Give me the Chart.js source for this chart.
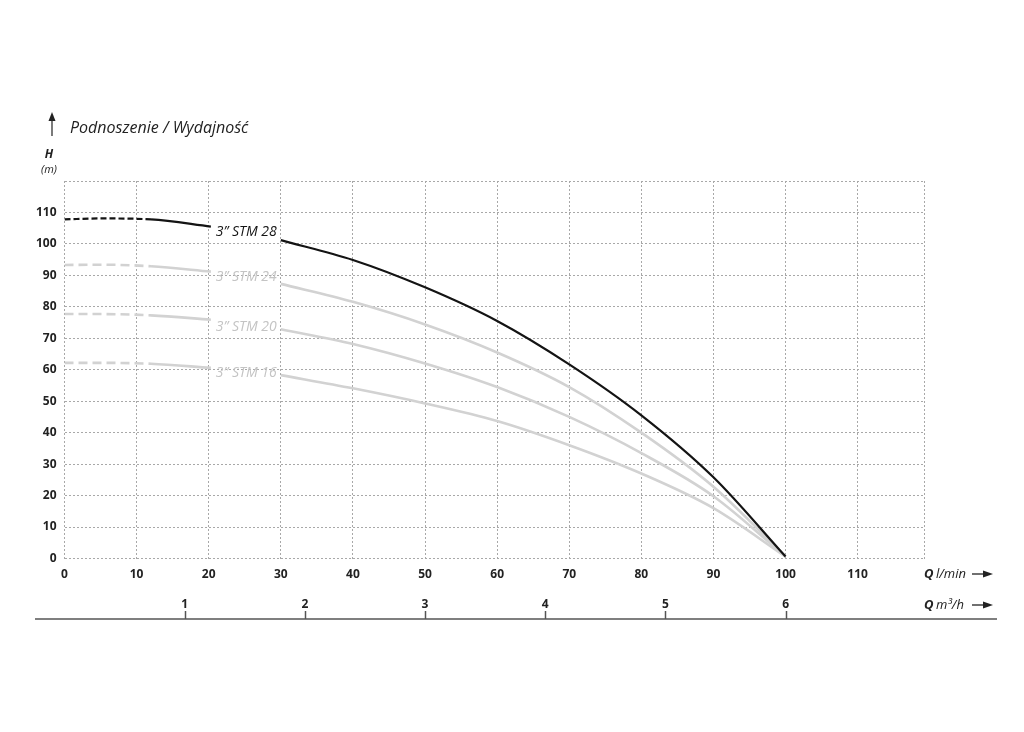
<!DOCTYPE html>
<html>
<head>
<meta charset="utf-8">
<title>Podnoszenie / Wydajność</title>
<script src="https://cdn.jsdelivr.net/npm/chart.js@4.4.1/dist/chart.umd.min.js"></script>
<style>
  body { margin: 0; background: #fff; }
  canvas { display: block; }
</style>
</head>
<body>
<canvas id="chart" width="1024" height="732"></canvas>
<script>
// flow in l/min (25 is the gap where the curve name sits)
const flow = [0, 5, 12, 20.3, 25, 30, 40, 50, 60, 70, 80, 90, 100];
const stm28 = [107.8, 108.1, 107.8, 105.5, null, 101.2, 94.9, 86.2, 75.5, 61.7, 45.5, 25.8, 0.6];
const stm24 = [93.3, 93.4, 92.9, 91.2, null, 87.3, 81.6, 74.4, 65.5, 54.5, 40.0, 22.8, 0.6];
const stm20 = [77.7, 77.7, 77.3, 75.9, null, 72.9, 68.2, 62.0, 54.5, 45.0, 33.5, 19.8, 0.6];
const stm16 = [62.2, 62.2, 61.9, 60.6, null, 58.3, 54.1, 49.3, 43.7, 36.0, 27.0, 16.0, 0.6];

const curveNames = ['3” STM 28', '3” STM 24', '3” STM 20', '3” STM 16'];
const nameFlow = [25.2, 25.2, 25.2, 25.2];
const nameHead = [103.9, 89.6, 73.7, 58.9];

const xTicks = [0, 10, 20, 30, 40, 50, 60, 70, 80, 90, 100, 110];
const yTicks = [0, 10, 20, 30, 40, 50, 60, 70, 80, 90, 100, 110];
const m3hTicks = [1, 2, 3, 4, 5, 6];

const X_MAX = 119.2;
const Y_MAX = 120;
const LMIN_PER_M3H = 1000 / 60;
const DASH_END = 12; // curves are dashed below this flow

const FONT = "'Open Sans', 'Noto Sans', sans-serif";
const BLACK = '#141414';
const GREY = '#d2d2d2';

function points(values) {
    return flow.map((q, i) => ({ x: q, y: values[i] }));
}

function curve(values, color, width, dash, order) {
    return {
        data: points(values),
        borderColor: color,
        borderWidth: width,
        pointRadius: 0,
        cubicInterpolationMode: 'monotone',
        spanGaps: false,
        order: order,
        segment: {
            borderDash: ctx => ctx.p1.parsed.x <= DASH_END ? dash : undefined
        }
    };
}

function arrowRight(c, x1, x2, y) {
    c.beginPath();
    c.moveTo(x1, y);
    c.lineTo(x2 - 8, y);
    c.stroke();
    c.beginPath();
    c.moveTo(x2, y);
    c.lineTo(x2 - 10, y - 3.5);
    c.lineTo(x2 - 10, y + 3.5);
    c.closePath();
    c.fill();
}

// texts, arrows and the m3/h baseline that are not part of the scales
const decorations = {
    id: 'decorations',
    afterDatasetsDraw(chart) {
        const c = chart.ctx;
        const xs = chart.scales.x, ys = chart.scales.y;
        c.save();
        c.font = 'italic 14px ' + FONT;
        c.textAlign = 'center';
        c.textBaseline = 'middle';
        curveNames.forEach((name, i) => {
            c.fillStyle = i === 0 ? BLACK : '#c4c4c4';
            c.fillText(name, xs.getPixelForValue(nameFlow[i]), ys.getPixelForValue(nameHead[i]));
        });
        c.restore();
    },
    afterDraw(chart) {
        const c = chart.ctx;
        const x2 = chart.scales.x2;
        c.save();
        c.fillStyle = '#222';
        c.strokeStyle = '#222';

        // vertical arrow + title
        c.lineWidth = 1.2;
        c.beginPath();
        c.moveTo(52, 136);
        c.lineTo(52, 118);
        c.stroke();
        c.beginPath();
        c.moveTo(52, 112);
        c.lineTo(48.5, 121);
        c.lineTo(55.5, 121);
        c.closePath();
        c.fill();

        c.textBaseline = 'middle';
        c.textAlign = 'left';
        c.font = 'italic 16px ' + FONT;
        c.fillText('Podnoszenie / Wydajność', 70, 128);

        c.textAlign = 'center';
        c.font = 'italic bold 12px ' + FONT;
        c.fillText('H', 49, 155);
        c.font = 'italic 11px ' + FONT;
        c.fillText('(m)', 49, 170);

        // axis names on the right
        c.textAlign = 'left';
        c.font = 'italic bold 13px ' + FONT;
        c.fillText('Q', 924, 574);
        c.fillText('Q', 924, 605);
        c.font = 'italic 13px ' + FONT;
        c.fillText('l/min', 936, 574);
        c.fillText('m³/h', 936, 605);
        c.lineWidth = 1.3;
        arrowRight(c, 972, 993, 574);
        arrowRight(c, 972, 993, 605);

        // m3/h baseline with tick marks
        c.strokeStyle = '#555';
        c.lineWidth = 1.5;
        c.beginPath();
        c.moveTo(35, 619);
        c.lineTo(997, 619);
        c.stroke();
        m3hTicks.forEach(v => {
            const px = Math.round(x2.getPixelForValue(v)) + 0.5;
            c.beginPath();
            c.moveTo(px, 611);
            c.lineTo(px, 619);
            c.stroke();
        });
        c.restore();
    }
};

// dotted grid lines (border.dash sets the grid dash in v4)
const grid = { color: '#a8a8a8', lineWidth: 1, drawTicks: false };
const gridDash = { display: false, dash: [2, 2] };
const tickFont = { family: FONT, weight: 'bold', size: 12 };

new Chart(document.getElementById('chart'), {
    type: 'line',
    data: {
        datasets: [
            curve(stm28, BLACK, 2.2, [6, 3], 0),
            curve(stm24, GREY, 2.6, [9, 5], 1),
            curve(stm20, GREY, 2.6, [9, 5], 1),
            curve(stm16, GREY, 2.6, [9, 5], 1)
        ]
    },
    options: {
        responsive: false,
        animation: false,
        events: [],
        layout: { padding: { top: 181, right: 100, bottom: 103.5, left: 0 } },
        plugins: {
            legend: { display: false },
            tooltip: { enabled: false }
        },
        scales: {
            x: {
                type: 'linear',
                position: 'bottom',
                weight: 0,
                min: 0,
                max: X_MAX,
                grid: grid,
                border: gridDash,
                afterBuildTicks: s => { s.ticks = xTicks.concat([X_MAX]).map(v => ({ value: v })); },
                afterFit: s => { s.height = 30; },
                ticks: {
                    autoSkip: false,
                    maxRotation: 0,
                    padding: 9,
                    color: '#222',
                    font: tickFont,
                    callback: v => xTicks.includes(v) ? String(v) : ''
                }
            },
            x2: {
                type: 'linear',
                position: 'bottom',
                weight: 1,
                min: 0,
                max: X_MAX / LMIN_PER_M3H,
                grid: { display: false, drawTicks: false },
                border: { display: false },
                afterBuildTicks: s => { s.ticks = m3hTicks.map(v => ({ value: v })); },
                afterFit: s => { s.height = 40; },
                ticks: {
                    autoSkip: false,
                    maxRotation: 0,
                    padding: 9,
                    color: '#222',
                    font: tickFont
                }
            },
            y: {
                type: 'linear',
                min: 0,
                max: Y_MAX,
                grid: grid,
                border: gridDash,
                afterBuildTicks: s => { s.ticks = yTicks.concat([Y_MAX]).map(v => ({ value: v })); },
                afterFit: s => { s.width = 64.5; },
                ticks: {
                    autoSkip: false,
                    padding: 8,
                    color: '#222',
                    font: tickFont,
                    callback: v => yTicks.includes(v) ? String(v) : ''
                }
            }
        }
    },
    plugins: [decorations]
});
</script>
</body>
</html>
